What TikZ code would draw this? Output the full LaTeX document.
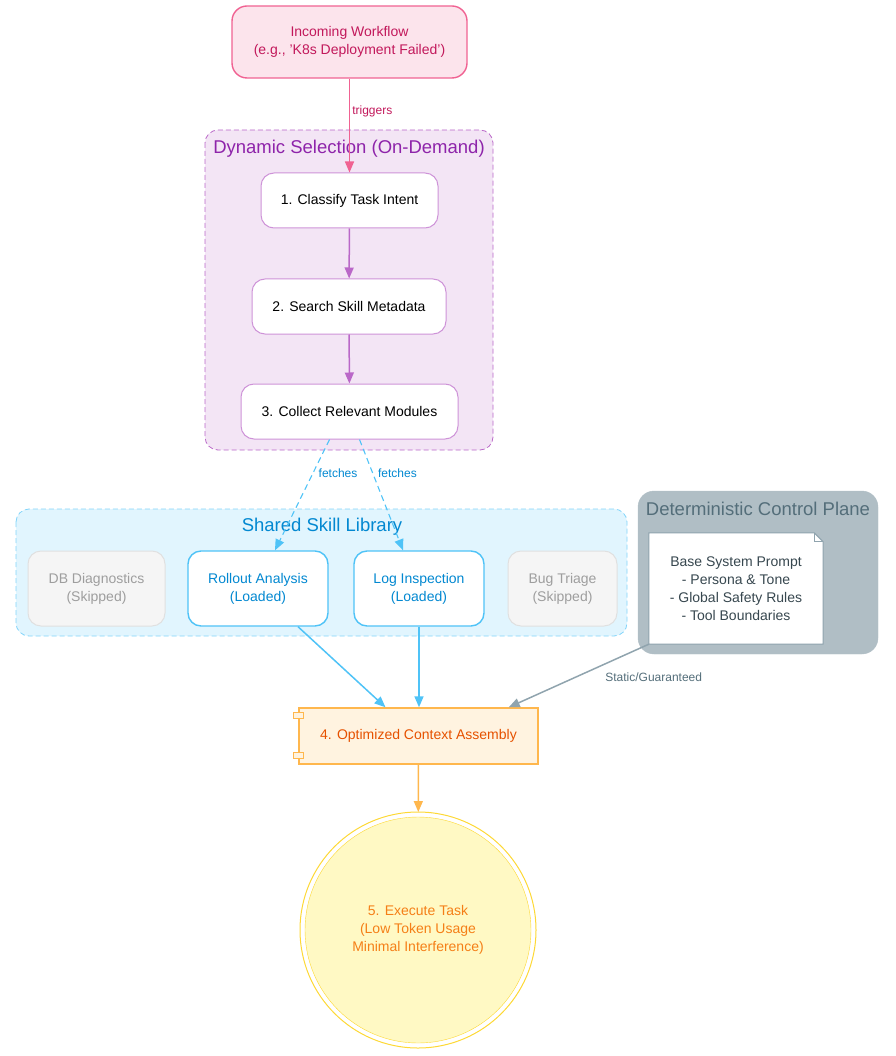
\documentclass[tikz,border=0pt]{standalone}
\usepackage{fontspec}
\setmainfont{Liberation Sans}
\usetikzlibrary{arrows.meta,positioning}

\definecolor{pinkfill}{HTML}{FCE4EC}
\definecolor{pinkline}{HTML}{F06292}
\definecolor{pinktext}{HTML}{C2185B}
\definecolor{purplefill}{HTML}{F3E5F5}
\definecolor{purpleline}{HTML}{BA68C8}
\definecolor{purplelight}{HTML}{CE93D8}
\definecolor{purpletext}{HTML}{8E24AA}
\definecolor{bluefill}{HTML}{E1F5FE}
\definecolor{blueline}{HTML}{4FC3F7}
\definecolor{bluedash}{HTML}{81D4FA}
\definecolor{bluetext}{HTML}{0288D1}
\definecolor{greyfill}{HTML}{F5F5F5}
\definecolor{greyline}{HTML}{E0E0E0}
\definecolor{greytext}{HTML}{9E9E9E}
\definecolor{slatefill}{HTML}{B0BEC5}
\definecolor{slateline}{HTML}{90A4AE}
\definecolor{slatetext}{HTML}{546E7A}
\definecolor{slatedark}{HTML}{37474F}
\definecolor{orangefill}{HTML}{FFF3E0}
\definecolor{orangeline}{HTML}{FFB74D}
\definecolor{orangetext}{HTML}{E65100}
\definecolor{yellowfill}{HTML}{FFF9C4}
\definecolor{yellowline}{HTML}{FDD835}
\definecolor{yellowtext}{HTML}{F57F17}

\begin{document}
\begin{tikzpicture}[x=1pt,y=-1pt,
  txt/.style={align=center, inner sep=0pt, font=\fontsize{14}{18}\selectfont},
  box/.style={txt, rounded corners=13pt, line width=1pt},
  stepbox/.style={box, draw=purplelight, fill=white, minimum height=55},
  skillbox/.style={box, draw=blueline, fill=white, text=bluetext, line width=1.4pt, minimum width=140, minimum height=75},
  skipbox/.style={box, draw=greyline, fill=greyfill, text=greytext, minimum height=75},
  arr/.style={-{Triangle[length=11pt,width=9pt]}, line width=1.5pt},
  elabel/.style={inner sep=2pt, font=\fontsize{12}{14}\selectfont},
  ctitle/.style={inner sep=0pt, font=\fontsize{18.5}{20}\selectfont}
]
\useasboundingbox (0,0) rectangle (895,1056);

% cluster backgrounds
\filldraw[fill=purplefill, draw=purpleline, dash pattern=on 5pt off 3pt, rounded corners=13pt, line width=0.8pt] (205,130) rectangle (493,450);
\filldraw[fill=bluefill, draw=bluedash, dash pattern=on 5pt off 3pt, rounded corners=13pt, line width=0.8pt] (16,509) rectangle (627,636);
\filldraw[fill=slatefill, draw=slatefill, rounded corners=16pt] (638,491) rectangle (878,654);

% cluster titles
\node[ctitle, text=purpletext] (dyntitle) at (349,149) {Dynamic Selection (On-Demand)};
\node[ctitle, text=bluetext] (libtitle) at (322,527) {Shared Skill Library};
\node[ctitle, text=slatetext] (ctrltitle) at (758,509) {Deterministic Control Plane};

% incoming workflow
\node[box, draw=pinkline, fill=pinkfill, text=pinktext, line width=1.4pt, rounded corners=15pt,
  minimum width=235, minimum height=72] (incoming) at (349.5,42)
  {Incoming Workflow\\(e.g., 'K8s Deployment Failed')};

% selection steps
\node[stepbox, minimum width=177] (classify) at (349.5,200.5) {1. Classify Task Intent};
\node[stepbox, minimum width=194] (search) at (349,306.5) {2. Search Skill Metadata};
\node[stepbox, minimum width=217] (collect) at (349.5,411.5) {3. Collect Relevant Modules};

% skill library
\node[skipbox, minimum width=137] (dbdiag) at (96.5,588.5) {DB Diagnostics\\(Skipped)};
\node[skillbox] (rollout) at (258,588.5) {Rollout Analysis\\(Loaded)};
\node[skillbox, minimum width=130] (loginsp) at (419,588.5) {Log Inspection\\(Loaded)};
\node[skipbox, minimum width=109] (bugtriage) at (562.5,588.5) {Bug Triage\\(Skipped)};

% base prompt note with folded corner
\node[txt, fill=white, text=slatedark, minimum width=174, minimum height=111] (note) at (736,588.5)
  {Base System Prompt\\- Persona \& Tone\\- Global Safety Rules\\- Tool Boundaries};
\fill[slatefill] ([xshift=-9pt]note.north east) -- (note.north east) -- ([yshift=-9pt]note.north east) -- cycle;
\draw[slateline, line width=1pt] (note.south west) -- (note.north west)
  -- ([xshift=-9pt]note.north east) -- ([yshift=-9pt]note.north east) -- (note.south east) -- cycle;
\draw[slateline, line width=0.8pt] ([xshift=-9pt]note.north east) -- ([xshift=-9pt,yshift=-9pt]note.north east)
  -- ([yshift=-9pt]note.north east);

% context assembly (component)
\node[txt, draw=orangeline, fill=orangefill, text=orangetext, line width=1.4pt,
  minimum width=239, minimum height=56] (ctx) at (418.5,736) {4. Optimized Context Assembly};
\filldraw[fill=orangefill, draw=orangeline, line width=1pt] ([xshift=-5pt,yshift=-5pt]ctx.north west) rectangle ([xshift=5pt,yshift=-11pt]ctx.north west);
\filldraw[fill=orangefill, draw=orangeline, line width=1pt] ([xshift=-5pt,yshift=6pt]ctx.south west) rectangle ([xshift=5pt,yshift=12pt]ctx.south west);

% execute task
\node[txt, circle, draw=yellowline, fill=yellowfill, text=yellowtext, minimum size=226,
  outer sep=5pt] (exec) at (418,930) {5. Execute Task\\(Low Token Usage\\Minimal Interference)};
\draw[yellowline, line width=1pt] (exec.center) circle[radius=118pt];

% edges
\draw[arr, pinkline] (incoming) -- node[elabel, pos=0.35, right, text=pinktext] {triggers} (classify);
\draw[arr, purpleline] (classify) -- (search);
\draw[arr, purpleline] (search) -- (collect);
\draw[arr, blueline, line width=1.1pt, dash pattern=on 6pt off 4pt] ([xshift=-20pt]collect.south)
  -- node[elabel, pos=0.3, right, xshift=3pt, text=bluetext] {fetches} ([xshift=17pt]rollout.north);
\draw[arr, blueline, line width=1.1pt, dash pattern=on 6pt off 4pt] ([xshift=10pt]collect.south)
  -- node[elabel, pos=0.3, right, xshift=3pt, text=bluetext] {fetches} ([xshift=-16pt]loginsp.north);
\draw[arr, blueline] ([xshift=40pt]rollout.south) -- ([xshift=-33pt]ctx.north);
\draw[arr, blueline] (loginsp) -- (loginsp |- ctx.north);
\draw[arr, slateline] (note.south west) -- node[elabel, pos=0.33, anchor=north west, yshift=-5pt, text=slatetext] {Static/Guaranteed} ([xshift=-30pt]ctx.north east);
\draw[arr, orangeline] (ctx) -- (exec);
\end{tikzpicture}
\end{document}
